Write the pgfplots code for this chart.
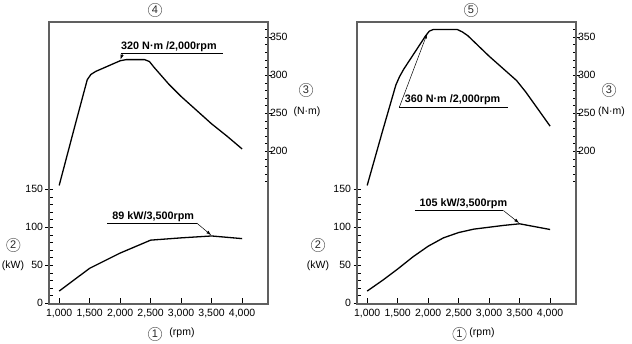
\documentclass[border=0pt]{standalone}
\usepackage{pgfplots}
\pgfplotsset{compat=1.18}
\usepackage{fontspec}
\setmainfont{Liberation Sans}
\usetikzlibrary{arrows.meta}

\pgfplotstableread{
x y
1000 155
1250 231
1460 294
1520 301
1600 305
1800 312
2000 319
2100 320.5
2400 320.5
2480 318
2560 310
2800 288
3000 272
3250 254
3500 236
3750 220
4000 203
}\torqueA
\pgfplotstableread{
x y
1000 16
1500 46
2000 66
2500 83
3000 86
3500 88.5
4000 85
}\powerA
\pgfplotstableread{
x y
1000 155
1250 226
1470 287
1530 298
1600 308
1960 352
2020 358
2080 360
2480 360
2560 357
2650 352
3000 325
3450 293
3600 278
4000 233
}\torqueB
\pgfplotstableread{
x y
1000 16
1250 30
1500 45
1750 61
2000 75
2250 86
2500 93
2750 97.5
3000 100
3250 102.5
3500 104.5
4000 97
}\powerB

\pgfplotsset{
  base/.style={scale only axis, width=219pt, height=282pt,
    xmin=833, xmax=4425, ymin=-1, ymax=370,
    anchor=south west,
    axis line style={draw=gray!75!black, line width=1.1pt},
    tick style={black, line width=0.6pt},
    xtick=\empty, ytick=\empty,
    ticklabel style={font=\fontsize{10.5}{12}\selectfont},
    /pgf/number format/assume math mode=true,
    clip=false},
  mainax/.style={base, xtick={1000,1500,...,4000},
    xtick pos=bottom, tick align=inside, major tick length=6pt,
    xticklabel style={yshift=-2pt},
    /pgf/number format/1000 sep={,}},
  lminor/.style={base, ytick={0,10,...,150}, ytick pos=left, tick align=inside,
    major tick length=3.5pt, yticklabels={}},
  lmajor/.style={base, ytick={0,50,100,150}, ytick pos=left, tick align=center,
    major tick length=7pt, yticklabel style={xshift=1pt}},
  rminor/.style={base, ytick={160,170,...,360}, ytick pos=right, tick align=inside,
    major tick length=3.5pt, yticklabels={}},
  rmajor/.style={base, ytick={200,250,300,350}, ytick pos=right, yticklabel pos=right,
    tick align=center, major tick length=7pt, yticklabel style={xshift=-5pt}},
}
\tikzset{circnum/.style={circle, draw=gray!80!black, line width=0.5pt, minimum size=13.5pt,
    inner sep=0pt, text=gray!30!black, font=\fontsize{11}{12}\selectfont},
  arr/.style={line width=0.5pt, -{Latex[length=5pt,width=3.2pt]}},
  annot/.style={font=\bfseries\fontsize{10.8}{12}\selectfont, inner sep=0pt}}

\begin{document}
\begin{tikzpicture}[x=1pt,y=1pt]
\path[use as bounding box] (0,0) rectangle (632,344);

% ---------- left panel ----------
\begin{axis}[lminor, at={(49pt,40pt)}]\end{axis}
\begin{axis}[lmajor, at={(49pt,40pt)}]\end{axis}
\begin{axis}[rminor, at={(49pt,40pt)}]\end{axis}
\begin{axis}[rmajor, at={(49pt,40pt)}]\end{axis}
\begin{axis}[mainax, at={(49pt,40pt)}]
\addplot[black, line width=1.3pt] table[x=x,y=y] {\torqueA};
\addplot[black, line width=1.3pt] table[x=x,y=y] {\powerA};
\node[annot] at (axis cs:2800,338) {320 N·m /2,000rpm};
\draw[line width=0.5pt] (axis cs:2008,328.5) -- (axis cs:3690,328.5);
\draw[arr] (axis cs:2040,328.5) -- (axis cs:2005,320.5);
\node[annot] at (axis cs:2543,114) {89 kW/3,500rpm};
\draw[line width=0.5pt] (axis cs:1788,105.5) -- (axis cs:3256,105.5);
\draw[arr] (axis cs:3256,105.5) -- (axis cs:3494,89.5);
\end{axis}

% ---------- right panel ----------
\begin{axis}[lminor, at={(357pt,40pt)}]\end{axis}
\begin{axis}[lmajor, at={(357pt,40pt)}]\end{axis}
\begin{axis}[rminor, at={(357pt,40pt)}]\end{axis}
\begin{axis}[rmajor, at={(357pt,40pt)}]\end{axis}
\begin{axis}[mainax, at={(357pt,40pt)}]
\addplot[black, line width=1.3pt] table[x=x,y=y] {\torqueB};
\addplot[black, line width=1.3pt] table[x=x,y=y] {\powerB};
\node[annot] at (axis cs:2400,268) {360 N·m /2,000rpm};
\draw[line width=0.5pt] (axis cs:1526,257.6) -- (axis cs:3316,257.6);
\draw[arr] (axis cs:1526,257.6) -- (axis cs:1985,355);
\node[annot] at (axis cs:2577,131) {105 kW/3,500rpm};
\draw[line width=0.5pt] (axis cs:1782,122) -- (axis cs:3233,122);
\draw[arr] (axis cs:3233,122) -- (axis cs:3493,105.5);
\end{axis}

% ---------- outer labels ----------
\begin{scope}[every node/.style={inner sep=0pt, font=\fontsize{10.5}{12}\selectfont}]
\node[circnum] at (155,334) {4};
\node[circnum] at (471,334) {5};
\node[circnum] at (306,254) {3};
\node at (307,232) {(N·m)};
\node[circnum] at (609,254) {3};
\node at (611.5,232) {(N·m)};
\node[circnum] at (13.3,99) {2};
\node at (13,78.5) {(kW)};
\node[circnum] at (318,99) {2};
\node at (318,78.5) {(kW)};
\node[circnum] at (155,10) {1};
\node at (182,11) {(rpm)};
\node[circnum] at (459.5,10) {1};
\node at (482,11) {(rpm)};
\end{scope}
\end{tikzpicture}
\end{document}
